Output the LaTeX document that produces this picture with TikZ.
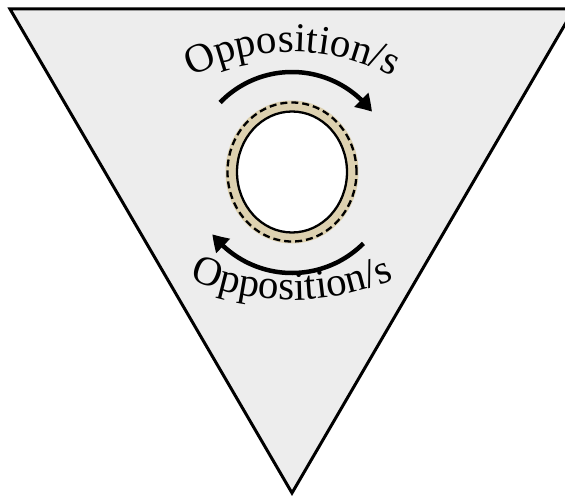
\documentclass[tikz,border=0pt]{standalone}
\usepackage{fontspec}
\setmainfont{Liberation Serif}
\usetikzlibrary{arrows.meta, decorations.text, bending}

\definecolor{ringtan}{RGB}{221,209,176}
\definecolor{panelgray}{RGB}{237,237,237}

\newcommand{\oppfont}{\fontsize{41}{41}\selectfont}

\begin{document}
\begin{tikzpicture}[x=1pt, y=1pt,
    edge/.style={line width=3pt, line join=miter},
    turn/.style={line width=4.5pt, -{Triangle[length=16pt, width=19pt, bend]}},
    arch/.style={decorate, decoration={text along path, text align=center,
        text={|\oppfont|Opposition/s}}},
  ]
    \useasboundingbox (0,0) rectangle (565,499);
    \clip (0,0) rectangle (565,499);

    % Inverted triangle (right corner runs off the page)
    \draw[edge, fill=panelgray] (10,490) -- (574,490) -- (292,6) -- cycle;

    % Ring in the middle
    \coordinate (ring) at (292,327);
    \fill[ringtan] (ring) ellipse[x radius=66.5, y radius=71.5];
    \draw[line width=2.3pt, dash pattern=on 7pt off 4pt] (ring) ellipse[x radius=64.5, y radius=69.5];
    \draw[line width=2.3pt, fill=white] (ring) ellipse[x radius=55, y radius=60.5];

    % Arrows round the ring
    \draw[turn] ([shift={(136:100)}]ring) arc[start angle=136, end angle=37, radius=100];
    \draw[turn] ([shift={(-45:101)}]ring) arc[start angle=-45, end angle=-142, radius=101];

    % Curved labels
    \coordinate (topc) at (292,231);
    \coordinate (botc) at (292,459);
    \path[arch] ([shift={(125:216)}]topc) arc[start angle=125, end angle=55, radius=216];
    \path[arch] ([shift={(-115:260)}]botc) arc[start angle=-115, end angle=-65, radius=260];
\end{tikzpicture}
\end{document}
